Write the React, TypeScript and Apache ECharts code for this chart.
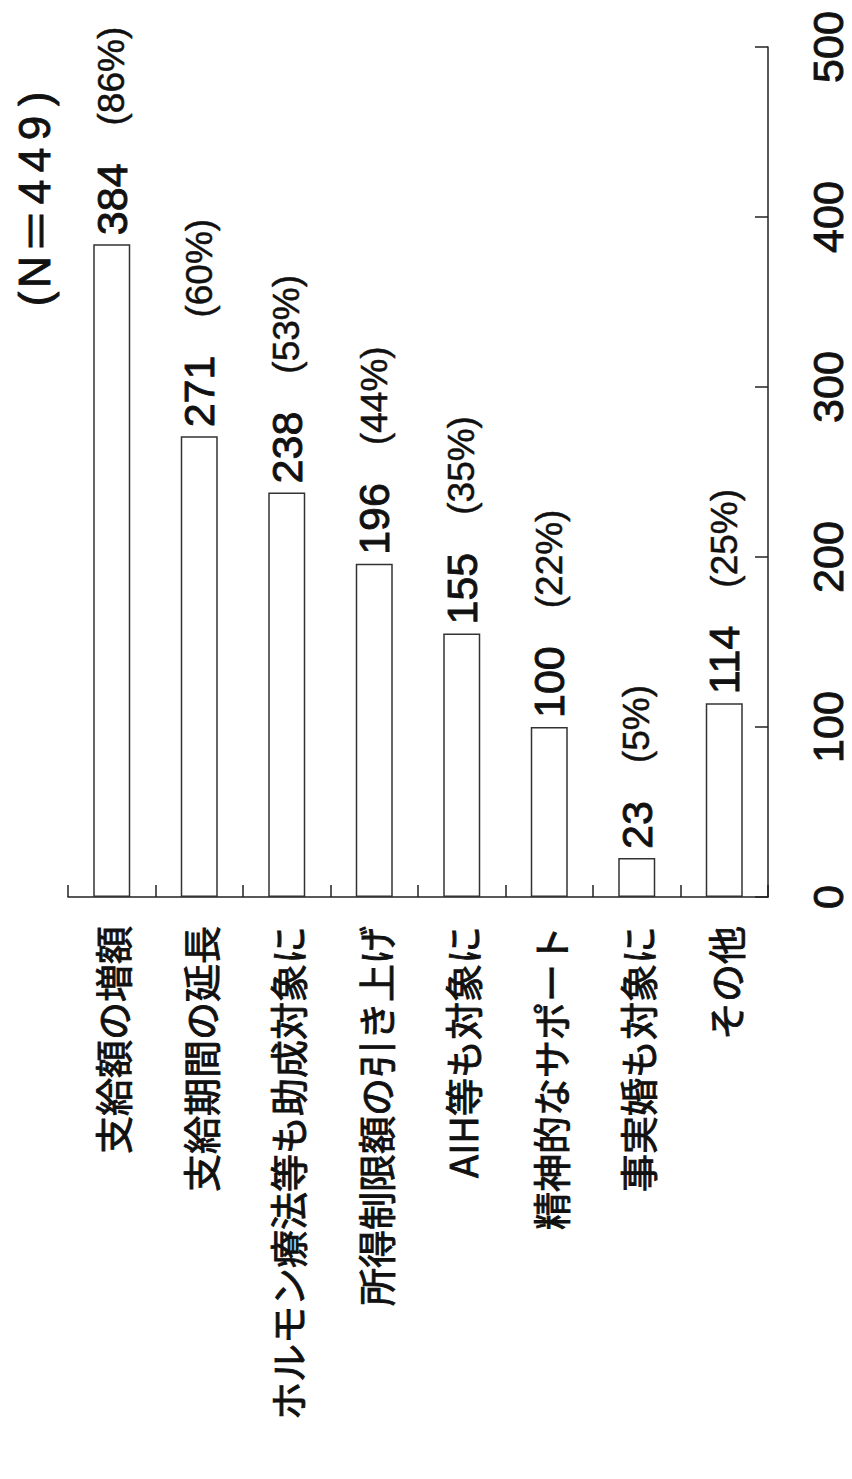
import React, { useEffect, useRef } from 'react';
import * as echarts from 'echarts';

const categories = [
  '支給額の増額',
  '支給期間の延長',
  'ホルモン療法等も助成対象に',
  '所得制限額の引き上げ',
  'AIH等も対象に',
  '精神的なサポート',
  '事実婚も対象に',
  'その他',
];
const counts = [384, 271, 238, 196, 155, 100, 23, 114];
const percents = [86, 60, 53, 44, 35, 22, 5, 25];
const valueTicks = [0, 100, 200, 300, 400, 500];
const totalN = '449';

const latin = '"Liberation Sans", Arial, sans-serif';
const cjk = '"Noto Sans CJK JP", sans-serif';
const ink = '#111';
const thick = { textBorderColor: ink, textBorderWidth: 0.9 };

export default function App() {
  const ref = useRef<HTMLDivElement>(null);
  useEffect(() => {
    if (!ref.current) return;
    const chart = echarts.init(ref.current, undefined, { renderer: 'svg' });
    const interval = valueTicks[1] - valueTicks[0];
    const digits = totalN.split('').map((d) => `{d|${d}}`).join('');
    const titleRich = `{pa|(}{n|N}{e|＝}${digits}{pb|)}`;
    const tok = (w: number, fam: string) => ({
      fontSize: 44,
      fontFamily: fam,
      width: w,
      align: 'center',
      fill: ink,
      stroke: ink,
      lineWidth: 0.9,
    });
    chart.setOption({
      animation: false,
      backgroundColor: '#ffffff',
      grid: { left: 68, right: 84, top: 47, bottom: 582, containLabel: false },
      xAxis: {
        type: 'category',
        data: categories,
        axisLine: { show: true, lineStyle: { color: '#222', width: 1.5 } },
        axisTick: { show: true, inside: true, length: 12, lineStyle: { color: '#222', width: 1.5 } },
        axisLabel: {
          rotate: 90,
          interval: 0,
          margin: 29,
          fontSize: 38,
          color: ink,
          fontFamily: cjk,
          ...thick,
        },
      },
      yAxis: {
        type: 'value',
        position: 'right',
        min: valueTicks[0],
        max: valueTicks[valueTicks.length - 1],
        interval,
        splitLine: { show: false },
        axisLine: { show: true, lineStyle: { color: '#222', width: 1.5 } },
        axisTick: { show: true, inside: true, length: 13, lineStyle: { color: '#222', width: 1.5 } },
        axisLabel: {
          rotate: 90,
          margin: 38,
          fontSize: 43,
          color: ink,
          fontFamily: latin,
          ...thick,
        },
      },
      graphic: [
        {
          type: 'text',
          x: 34,
          y: 197,
          rotation: Math.PI / 2,
          style: {
            text: titleRich,
            fontSize: 44,
            fontFamily: latin,
            fill: ink,
            stroke: ink,
            lineWidth: 0.9,
            align: 'center',
            verticalAlign: 'middle',
            textAlign: 'center',
            textVerticalAlign: 'middle',
            rich: {
              pa: tok(18, latin),
              pb: tok(26, latin),
              n: tok(36, latin),
              e: tok(46, cjk),
              d: tok(32, latin),
            },
          },
        },
      ],
      series: [
        {
          type: 'bar',
          data: counts,
          barWidth: 37,
          itemStyle: { color: '#ffffff', borderColor: '#333', borderWidth: 1.5 },
          label: {
            show: true,
            position: 'top',
            distance: 9,
            rotate: 90,
            align: 'left',
            verticalAlign: 'middle',
            formatter: (p: any) => `{v|${p.value}}{g|}{p|(${percents[p.dataIndex]}%)}`,
            rich: {
              v: { fontSize: 43, color: ink, fontFamily: latin, ...thick },
              g: { width: 38 },
              p: { fontSize: 37, color: ink, fontFamily: latin, textBorderColor: ink, textBorderWidth: 0.5 },
            },
          },
        },
      ],
    });
    return () => chart.dispose();
  }, []);
  return (
    <div
      ref={ref}
      style={{ position: 'absolute', left: 0, top: 0, width: 852, height: 1479 }}
    />
  );
}
